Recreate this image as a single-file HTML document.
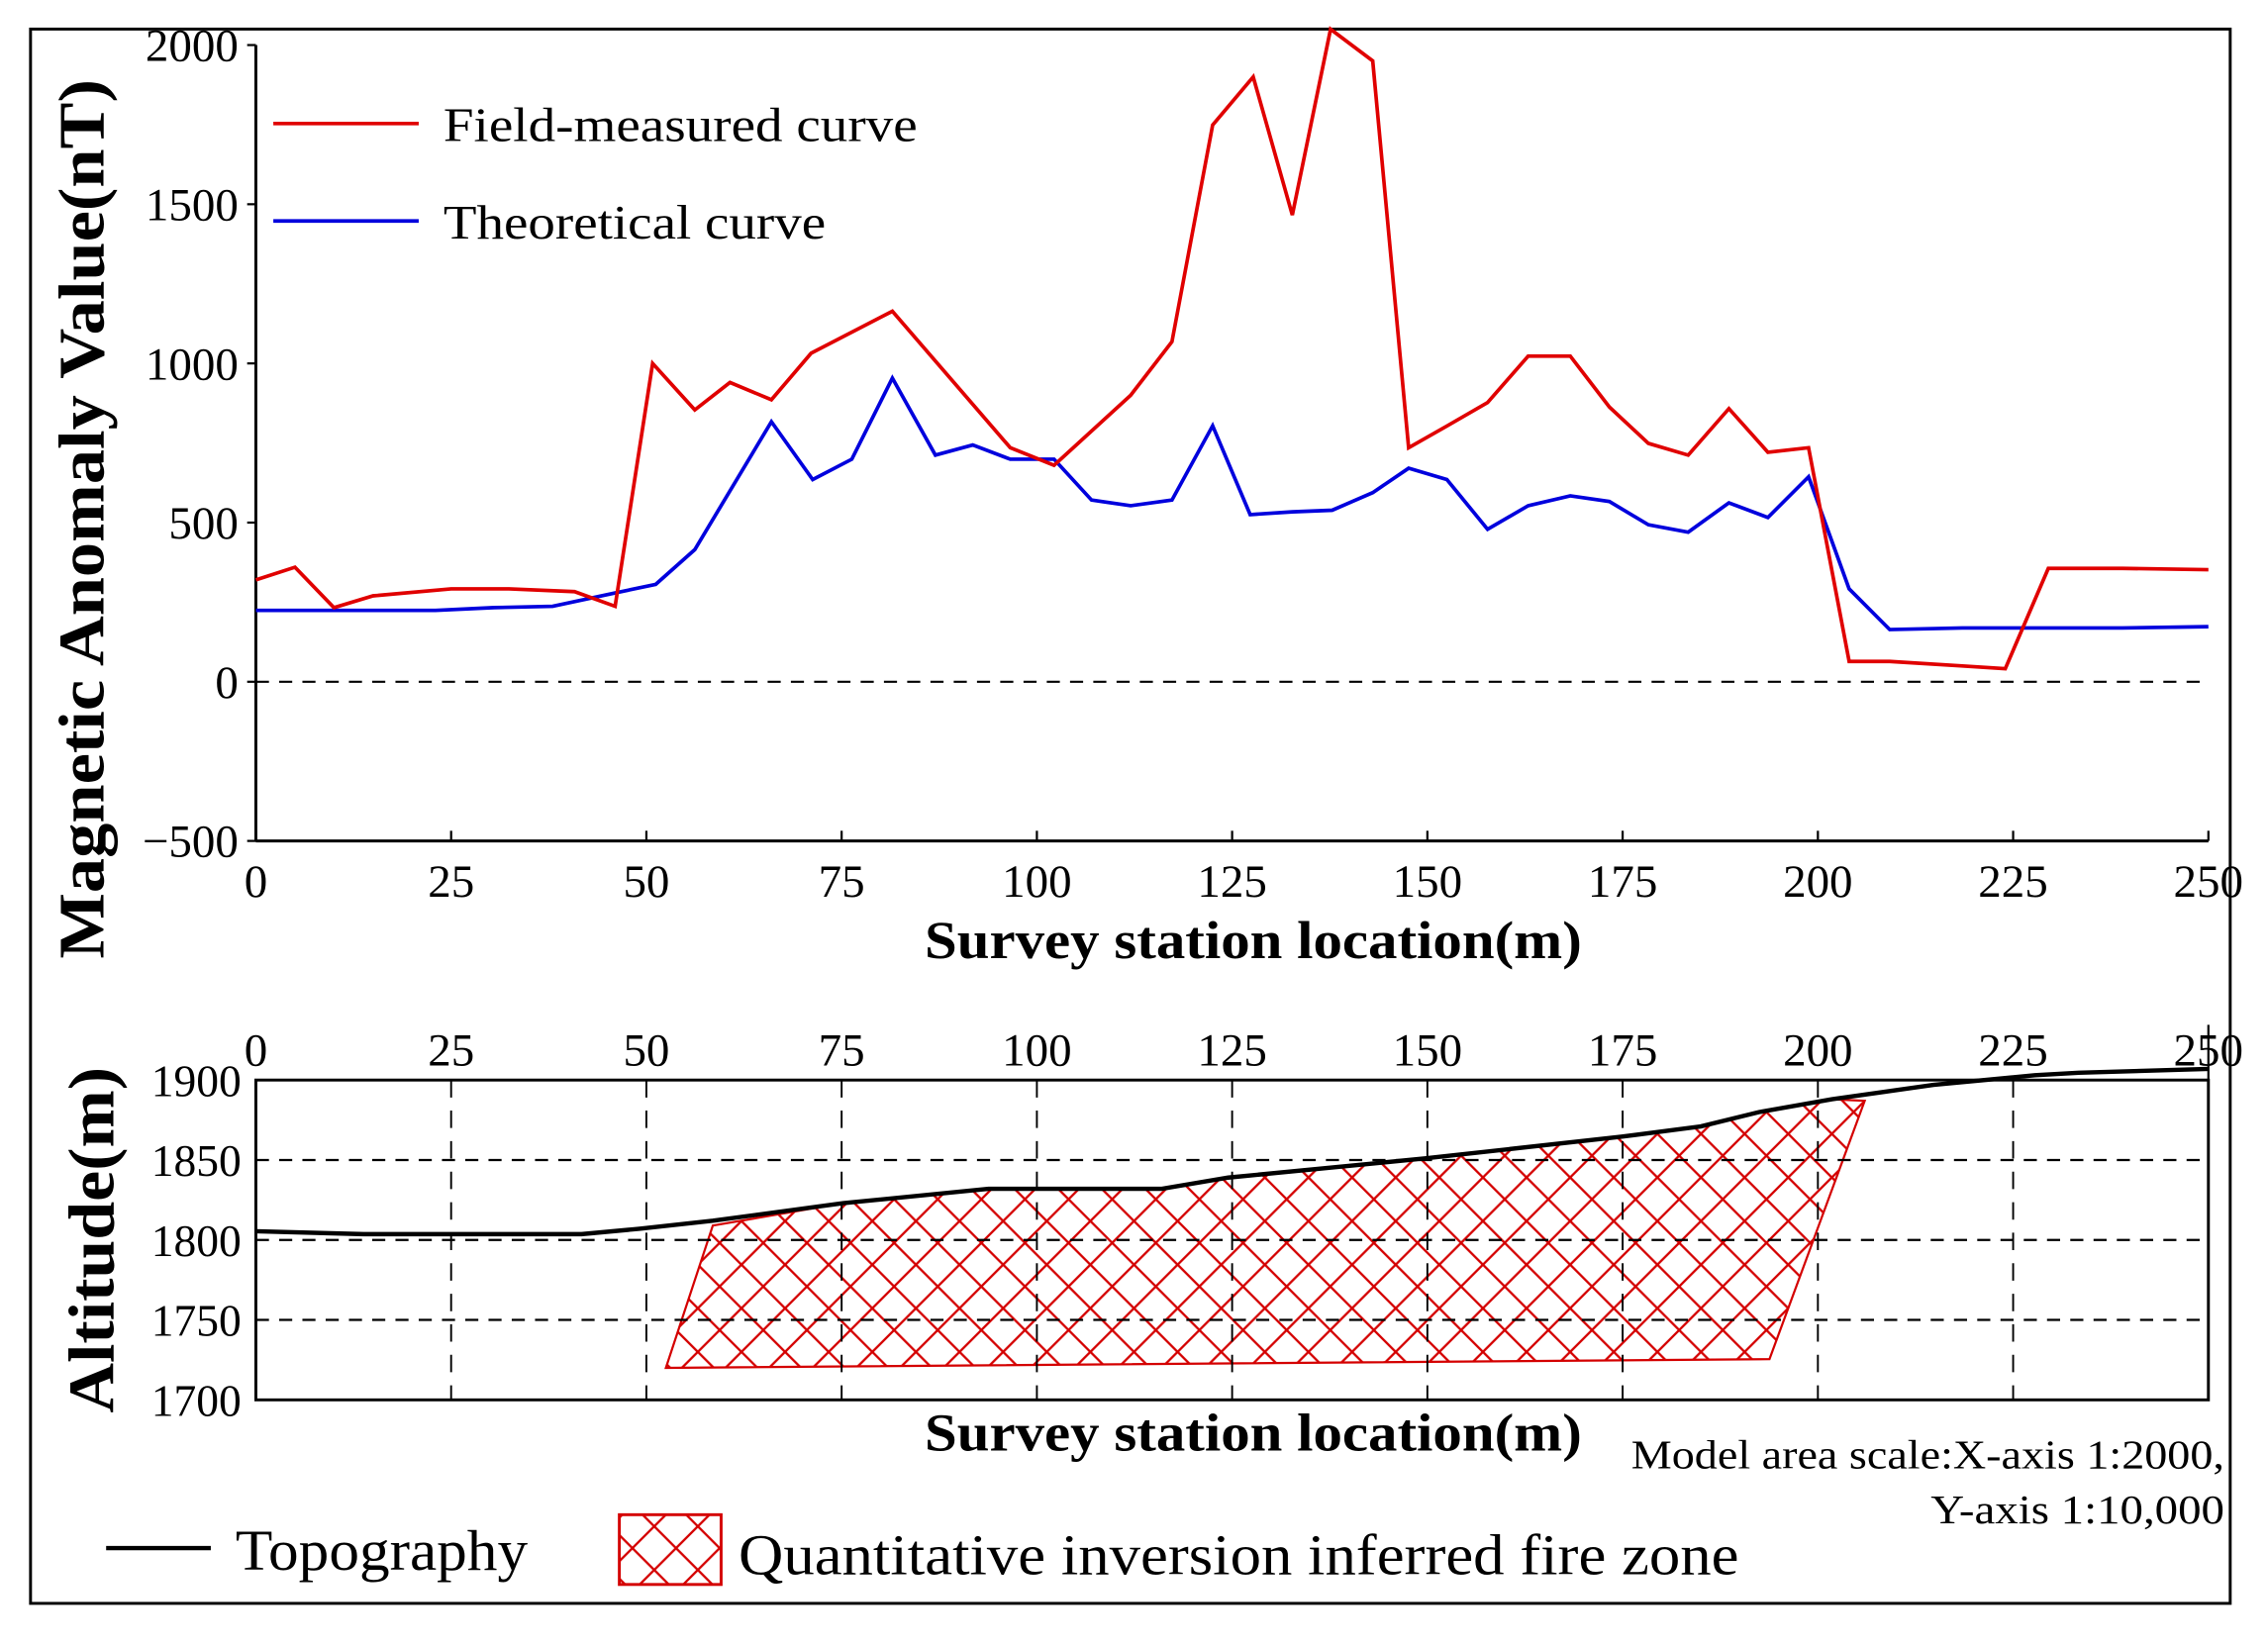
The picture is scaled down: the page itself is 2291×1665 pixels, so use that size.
<!DOCTYPE html>
<html><head><meta charset="utf-8"><style>
html,body{margin:0;padding:0;background:#fff;}
svg{display:block;}
text{font-family:"Liberation Serif",serif;fill:#000;}
</style></head><body>
<svg id="chart" width="2291" height="1665" viewBox="0 0 1560 1133.7" preserveAspectRatio="none" xmlns="http://www.w3.org/2000/svg">
<defs>
<pattern id="hatch" patternUnits="userSpaceOnUse" width="30" height="30" x="0" y="0">
<path d="M0,0 L30,30 M30,0 L0,30" stroke="#d40000" stroke-width="1.6" fill="none"/>
</pattern>
</defs>
<rect x="21" y="20" width="1513" height="1083" fill="none" stroke="#000" stroke-width="2"/>
<g id="topg"></g>
<g id="botg"></g>
<g id="legend-top">
<line x1="188" y1="85" x2="288" y2="85" stroke="#e00000" stroke-width="2.5"/>
<text x="305" y="97" font-size="33" textLength="326" lengthAdjust="spacingAndGlyphs">Field-measured curve</text>
<line x1="188" y1="152" x2="288" y2="152" stroke="#0000dd" stroke-width="2.5"/>
<text x="305" y="164" font-size="33" textLength="263" lengthAdjust="spacingAndGlyphs">Theoretical curve</text>
</g>
<text transform="translate(71,357) rotate(-90)" text-anchor="middle" font-size="45" font-weight="bold" textLength="605" lengthAdjust="spacingAndGlyphs">Magnetic Anomaly Value(nT)</text>
<text x="862" y="659" text-anchor="middle" font-size="37" font-weight="bold" textLength="452" lengthAdjust="spacingAndGlyphs">Survey station location(m)</text>
<text transform="translate(78,853) rotate(-90)" text-anchor="middle" font-size="45" font-weight="bold" textLength="238" lengthAdjust="spacingAndGlyphs">Altitude(m)</text>
<text x="862" y="998" text-anchor="middle" font-size="37" font-weight="bold" textLength="452" lengthAdjust="spacingAndGlyphs">Survey station location(m)</text>
<text x="1530" y="1010" text-anchor="end" font-size="28" textLength="408" lengthAdjust="spacingAndGlyphs">Model area scale:X-axis 1:2000,</text>
<text x="1530" y="1048" text-anchor="end" font-size="28" textLength="202" lengthAdjust="spacingAndGlyphs">Y-axis  1:10,000</text>
<g>
<line x1="73" y1="1065" x2="145" y2="1065" stroke="#000" stroke-width="3"/>
<text x="162" y="1080" font-size="40" textLength="201" lengthAdjust="spacingAndGlyphs">Topography</text>
<rect x="426" y="1042" width="70" height="48" fill="url(#hatch)" stroke="#d40000" stroke-width="2"/>
<text x="508" y="1083" font-size="40" textLength="688" lengthAdjust="spacingAndGlyphs">Quantitative inversion inferred fire zone</text>
</g>
</svg>
<script>
// ---- data ----
const xTicks = [0,25,50,75,100,125,150,175,200,225,250];
const yTicksTop = [2000,1500,1000,500,0,-500];
const yTicksBottom = [1900,1850,1800,1750,1700];
const fieldX = [0,5,10,15,25,32.4,40.8,46,50.8,56.2,60.7,66,71.1,81.5,96.6,102.2,112,117.3,122.5,127.7,132.7,137.6,143,147.6,152.5,157.7,162.9,168.3,173.3,178.3,183.4,188.6,193.6,198.8,204,209.2,218.5,224,229.5,239,250];
const fieldV = [320,360,233,270,292,292,283,237,1000,854,940,886,1032,1164,735,680,900,1068,1749,1900,1466,2050,1950,735,803,877,1023,1023,863,749,712,858,721,735,64,64,50,41,356,356,352];
const theoX = [0,10,23,30.5,38,46,51.2,56.2,66,71.3,76.3,81.5,87,91.8,96.6,102.2,107,112,117.3,122.5,127.3,132.7,137.8,143,147.6,152.5,157.7,162.9,168.3,173.3,178.3,183.4,188.6,193.6,198.8,204,209.2,218.5,239,250];
const theoV = [224,224,224,233,237,279,306,415,817,635,699,954,712,744,699,699,571,553,571,804,525,534,539,594,671,635,479,553,584,566,493,470,562,516,644,292,164,169,169,173];
const topoX = [0,13.8,41.7,49.1,58.5,75.2,93.8,116,124.5,149.7,174.8,185,192.5,201.8,214.8,227.8,233.4,250];
const topoAlt = [1805.5,1803.6,1803.6,1807,1812,1823,1832,1832,1839,1851,1864.5,1871,1880,1888,1897,1903,1904.5,1907];
const zoneBottomX = [52.5,193.8];
const zoneBottomAlt = [1720,1725.5];
const zoneTopX = [58.5,206];
const zoneTopAlt = [1809,1887];

// ---- axes ----
const X0=176, X1=1519;
const sx = m => X0 + (m/250)*(X1-X0);
const syTop = v => 469 - v*(438/2000);
const syBot = a => 963 - (a-1700)*(220/200);
const NS="http://www.w3.org/2000/svg";
function mk(tag, attrs, parent){const e=document.createElementNS(NS,tag);for(const k in attrs)e.setAttribute(k,attrs[k]);parent.appendChild(e);return e;}
const topG=document.getElementById('topg'), botG=document.getElementById('botg');

let ax=mk('line',{x1:X0,y1:syTop(2000),x2:X0,y2:syTop(-500),stroke:'#000','stroke-width':2},topG);


ax=mk('line',{x1:X0,y1:syTop(-500),x2:X1,y2:syTop(-500),stroke:'#000','stroke-width':2},topG);


let zl=mk('line',{x1:X0,y1:syTop(0),x2:X1,y2:syTop(0),stroke:'#000','stroke-width':1.5,'stroke-dasharray':'9,7'},topG);


yTicksTop.forEach(v=>{
  const y=syTop(v);
  mk('line',{x1:X0-6,y1:y,x2:X0,y2:y,stroke:'#000','stroke-width':1.5},topG);
  const t=mk('text',{x:X0-12,y:y+11,'text-anchor':'end','font-size':32},topG);
  t.textContent = v<0 ? '\u2212'+Math.abs(v) : String(v);
  
  
});
xTicks.forEach(m=>{
  const x=sx(m);
  mk('line',{x1:x,y1:syTop(-500)-7,x2:x,y2:syTop(-500),stroke:'#000','stroke-width':1.5},topG);
  const t=mk('text',{x:x,y:617,'text-anchor':'middle','font-size':32},topG);
  t.textContent=String(m);
  
  
});
function poly(xs,vs,sy){return xs.map((m,i)=>sx(m).toFixed(1)+','+sy(vs[i]).toFixed(1)).join(' ');}
let p=mk('polyline',{points:poly(theoX,theoV,syTop),fill:'none',stroke:'#0000dd','stroke-width':2.5},topG);


p=mk('polyline',{points:poly(fieldX,fieldV,syTop),fill:'none',stroke:'#e00000','stroke-width':2.5},topG);



const zonePts=[];
zonePts.push([sx(zoneBottomX[0]),syBot(zoneBottomAlt[0])]);
zonePts.push([sx(zoneBottomX[1]),syBot(zoneBottomAlt[1])]);
zonePts.push([sx(zoneTopX[1]),syBot(zoneTopAlt[1])]);
for(let i=topoX.length-1;i>=0;i--){ if(topoX[i]<zoneTopX[1] && topoX[i]>zoneTopX[0]) zonePts.push([sx(topoX[i]),syBot(topoAlt[i])]); }
zonePts.push([sx(zoneTopX[0]),syBot(zoneTopAlt[0])]);
let z=mk('polygon',{points:zonePts.map(q=>q[0].toFixed(1)+','+q[1].toFixed(1)).join(' '),fill:'url(#hatch)',stroke:'#d40000','stroke-width':1.5},botG);


xTicks.slice(1,-1).forEach(m=>{
  const g=mk('line',{x1:sx(m),y1:syBot(1900),x2:sx(m),y2:syBot(1700),stroke:'#000','stroke-width':1.3,'stroke-dasharray':'12,9'},botG);
  
  
});
[1850,1800,1750].forEach(a=>{
  const g=mk('line',{x1:X0,y1:syBot(a),x2:X1,y2:syBot(a),stroke:'#000','stroke-width':1.5,'stroke-dasharray':'9,7'},botG);
  
  
});
let fr=mk('rect',{x:X0,y:syBot(1900),width:X1-X0,height:syBot(1700)-syBot(1900),fill:'none',stroke:'#000','stroke-width':2},botG);


mk('line',{x1:X1,y1:705,x2:X1,y2:syBot(1900),stroke:'#000','stroke-width':1.5},botG);
yTicksBottom.forEach(a=>{
  const t=mk('text',{x:X0-10,y:syBot(a)+11,'text-anchor':'end','font-size':31},botG);
  t.textContent=String(a);
  
  
});
xTicks.forEach(m=>{
  const t=mk('text',{x:sx(m),y:733,'text-anchor':'middle','font-size':32},botG);
  t.textContent=String(m);
  
  
});
p=mk('polyline',{points:poly(topoX,topoAlt,syBot),fill:'none',stroke:'#000','stroke-width':3},botG);


</script>
</body></html>
